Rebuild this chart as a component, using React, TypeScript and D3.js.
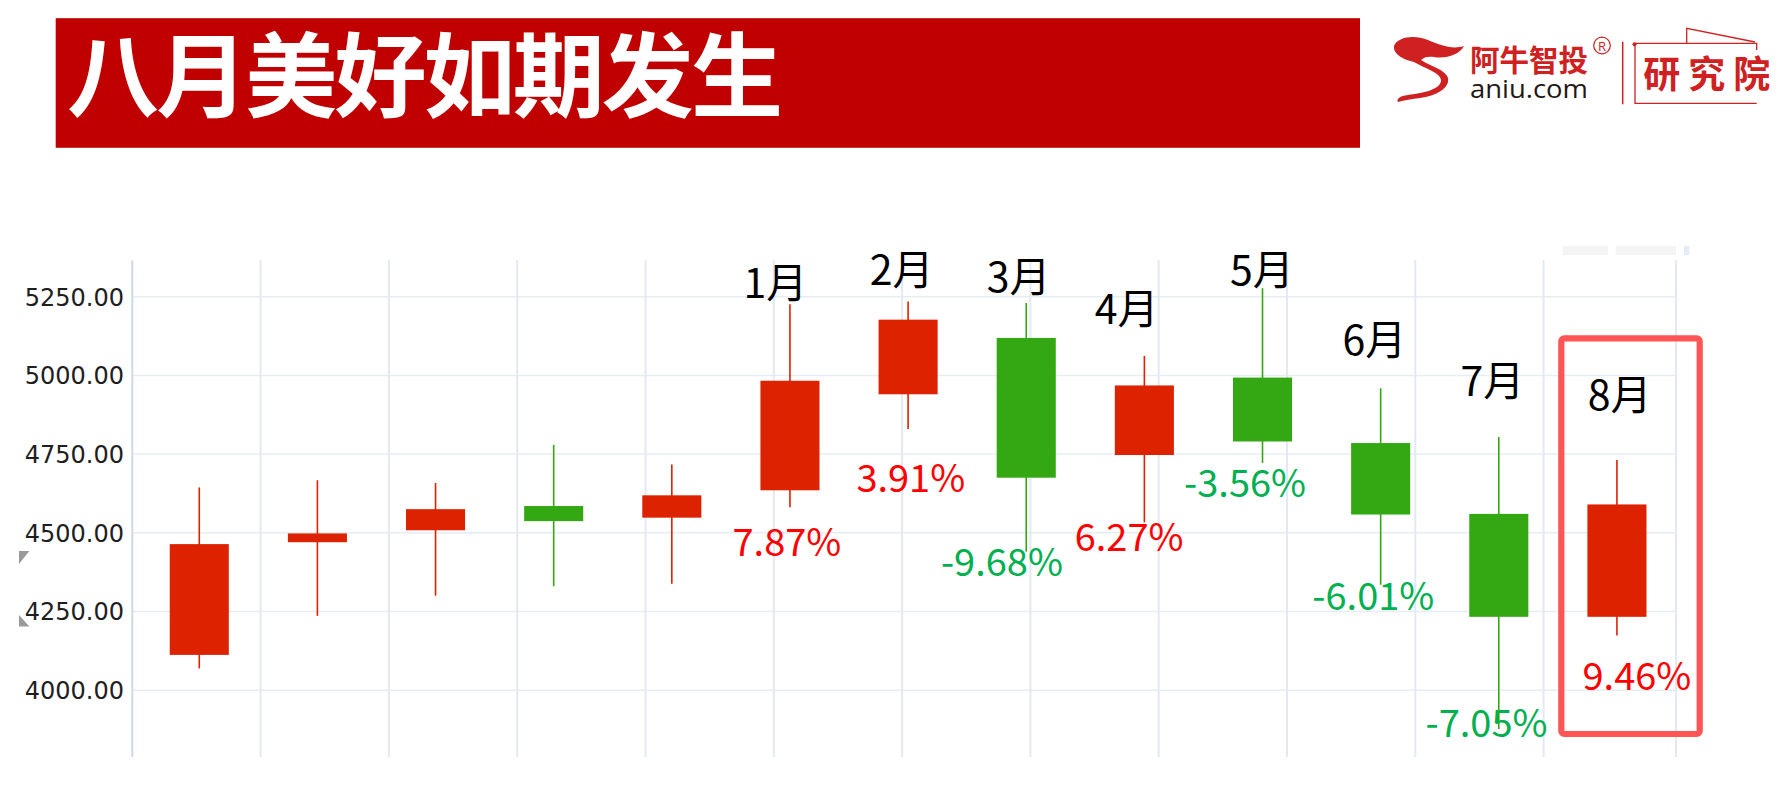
import React from "react";
import * as d3 from "d3";

// ---------- data ----------
const categories = [
  "2023-08", "2023-09", "2023-10", "2023-11", "2023-12",
  "2024-01", "2024-02", "2024-03", "2024-04", "2024-05", "2024-06", "2024-07", "2024-08",
];
const openValues = [4112, 4470, 4508, 4585, 4548, 4635, 4940, 5119, 4747, 4993, 4785, 4560, 4233];
const closeValues = [4464, 4498, 4575, 4537, 4619, 4983, 5177, 4675, 4968, 4790, 4558, 4233, 4590];
const lowValues = [4069, 4236, 4300, 4330, 4338, 4581, 4830, 4440, 4533, 4722, 4335, 3877, 4174];
const highValues = [4644, 4667, 4658, 4779, 4717, 5226, 5235, 5230, 5062, 5277, 4959, 4804, 4731];
const monthLabels = ["", "", "", "", "", "1月", "2月", "3月", "4月", "5月", "6月", "7月", "8月"];
const pctLabels = ["", "", "", "", "", "7.87%", "3.91%", "-9.68%", "6.27%", "-3.56%", "-6.01%", "-7.05%", "9.46%"];
const yTicks = [4000, 4250, 4500, 4750, 5000, 5250];
const title = "八月美好如期发生";

// ---------- layout (annotation offsets, px) ----------
const monthDx = [0, 0, 0, 0, 0, -14.7, -6.5, -7.6, -17.8, -0.7, -6.3, -6.3, 2.7];
const monthDy = [0, 0, 0, 0, 0, -6.4, -16, -10.7, -31.4, -3.3, -33.5, -41.4, -49.9];
const pctDx = [0, 0, 0, 0, 0, -3, 2.7, -24.3, -15.3, -17.4, -7.3, -12.3, 20];
const pctDy = [0, 0, 0, 0, 0, 48.9, 63.1, 24.1, 28.6, 34.5, 24.9, 7.8, 54.5];

const W = 1783;
const H = 789;
const plotLeft = 132.3;
const plotRight = 1676;
const plotTop = 260.3;
const plotBottom = 756.9;
const UP = "#DD2200";
const DOWN = "#34A813";

export default function App() {
  const x = d3.scaleBand<string>().domain(categories).range([140.2, plotRight]).padding(0);
  const y = d3.scaleLinear().domain([3788, 5365.6]).range([plotBottom, plotTop]);
  const bw = x.bandwidth() * 0.5;
  const gridX = d3.range(1, 12).map((i) => plotLeft + i * 128.3);
  gridX.push(plotRight);

  const cjk = "'Noto Sans CJK SC', 'Noto Sans', sans-serif";

  return (
    <svg width={W} height={H} style={{ position: "absolute", left: 0, top: 0, background: "#fff" }}>
      {/* header */}
      <rect x={55.7} y={18.2} width={1304.3} height={129.6} fill="#C00000" />
      <text x={67} y={110} fill="#fff" fontFamily={cjk} fontWeight={700} fontSize={92}
        textLength={716} lengthAdjust="spacing">{title}</text>

      {/* logo */}
      <g fill="#CF2121">
        <path d="M1394,46 C1397,37 1414,34 1428,40 C1440,45 1452,50 1464,46 C1459,55 1446,59 1434,57 C1428,56 1424,57 1421,60 C1430,66 1446,70 1448,78 C1450,88 1436,96 1420,98 C1412,99 1404,100 1398,102 C1396,99 1400,96 1408,95 C1422,93 1440,90 1441,81 C1442,73 1424,68 1414,62 C1405,60 1393,55 1394,46 Z" />
      </g>
      <text x={1470} y={71} fill="#CF2121" fontFamily={cjk} fontWeight={700} fontSize={30}
        textLength={118} lengthAdjust="spacingAndGlyphs">阿牛智投</text>
      <circle cx={1602} cy={45.5} r={8.3} fill="none" stroke="#CF2121" strokeWidth={1.2} />
      <text x={1602} y={50.5} fill="#CF2121" fontFamily="'Open Sans', sans-serif" fontSize={13} textAnchor="middle">R</text>
      <text x={1470} y={98} fill="#231815" fontFamily="'Open Sans', sans-serif" fontSize={25}
        textLength={118} lengthAdjust="spacingAndGlyphs">aniu.com</text>
      <line x1={1622.7} x2={1622.7} y1={41.7} y2={104.3} stroke="#CF2121" strokeWidth={1.5} />
      <g fill="none" stroke="#CF2121" strokeWidth={1.3}>
        <path d="M1635,44.3 L1635,103.3 L1756.7,103.3" />
        <path d="M1635,43.3 L1756.7,43.3 L1756.7,50" />
        <path d="M1686.7,43.3 L1686.7,28.3 L1755,42" />
      </g>
      <circle cx={1634.5} cy={44.3} r={2} fill="#CF2121" />
      <text x={1643.3} y={88} fill="#CF2121" fontFamily={cjk} fontWeight={700} fontSize={37}
        textLength={127} lengthAdjust="spacing">研究院</text>

      {/* faint toolbox remnants */}
      <rect x={1562.7} y={246} width={45.3} height={9} fill="#F4F4F4" />
      <rect x={1615.7} y={246} width={60.3} height={9} fill="#F4F4F4" />
      <rect x={1684} y={246} width={5.3} height={9} fill="#E4ECF7" />

      {/* grid */}
      <g stroke="#E8EDF4" strokeWidth={1.5}>
        {yTicks.map((t) => (
          <line key={t} x1={plotLeft} x2={plotRight} y1={y(t)} y2={y(t)} />
        ))}
        {gridX.map((gx, i) => (
          <line key={i} x1={gx} x2={gx} y1={plotTop} y2={plotBottom} stroke="#E3E9F2" strokeWidth={2} />
        ))}
      </g>
      <line x1={plotLeft} x2={plotLeft} y1={plotTop} y2={plotBottom} stroke="#CCDAEC" strokeWidth={2} />

      {/* y axis labels */}
      {yTicks.map((t) => (
        <text key={t} x={124} y={y(t) + 8.9} textAnchor="end" fill="#1E1E1E"
          fontFamily="'DejaVu Sans', sans-serif" fontSize={24}>{t.toFixed(2)}</text>
      ))}

      {/* left markers */}
      <polygon points="19,551 29.3,551 19,564" fill="#9A9A9A" />
      <polygon points="19,615 19,626.4 29.3,626.4" fill="#9A9A9A" />

      {/* candles */}
      {categories.map((c, i) => {
        const up = closeValues[i] >= openValues[i];
        const col = up ? UP : DOWN;
        const cx = (x(c) as number) + x.bandwidth() / 2;
        const top = y(Math.max(openValues[i], closeValues[i]));
        const bot = y(Math.min(openValues[i], closeValues[i]));
        return (
          <g key={c}>
            <line x1={cx} x2={cx} y1={y(highValues[i])} y2={y(lowValues[i])} stroke={col} strokeWidth={1.6} />
            <rect x={cx - bw / 2} y={top} width={bw} height={Math.max(bot - top, 1)} fill={col} />
          </g>
        );
      })}

      {/* annotations */}
      {categories.map((c, i) => {
        if (!monthLabels[i]) return null;
        const cx = (x(c) as number) + x.bandwidth() / 2;
        const neg = pctLabels[i].startsWith("-");
        return (
          <g key={"a" + c}>
            <text x={cx + monthDx[i]} y={y(highValues[i]) + monthDy[i]} textAnchor="middle" fill="#000"
              fontFamily={cjk} fontSize={41}>{monthLabels[i]}</text>
            <text x={cx + pctDx[i]} y={y(lowValues[i]) + pctDy[i]} textAnchor="middle"
              fill={neg ? "#00B050" : "#FF0000"} fontFamily={cjk} fontSize={38}>{pctLabels[i]}</text>
          </g>
        );
      })}

      {/* highlight box */}
      <rect x={1561.3} y={338.4} width={138.4} height={395.6} rx={3} fill="none" stroke="#FF5555" strokeWidth={6.2} />
    </svg>
  );
}
